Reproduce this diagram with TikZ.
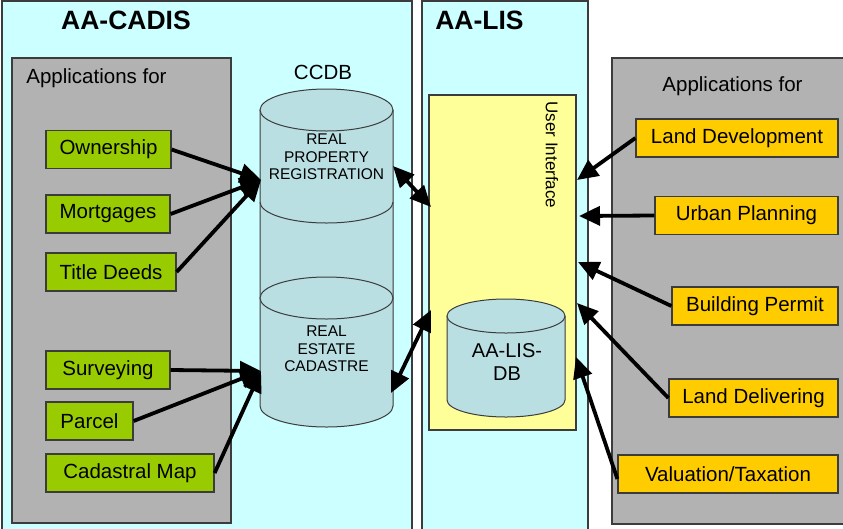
\documentclass[tikz,border=0pt]{standalone}
\usepackage{fontspec}
\setmainfont{Liberation Sans}
\usetikzlibrary{shapes,arrows.meta,positioning}

\definecolor{sysblue}{RGB}{204,255,255}
\definecolor{appgray}{RGB}{178,178,178}
\definecolor{appgreen}{RGB}{153,204,0}
\definecolor{useorange}{RGB}{255,204,0}
\definecolor{uiyellow}{RGB}{255,255,153}
\definecolor{dbfill}{RGB}{185,223,227}
\definecolor{edge}{RGB}{60,60,60}

\begin{document}
\begin{tikzpicture}[
    x=1pt, y=-1pt,
    system/.style={draw=edge, fill=sysblue, line width=1.2pt},
    group/.style={draw=edge, fill=appgray, line width=1.2pt},
    app/.style={rectangle, draw=edge, fill=appgreen, line width=1.2pt, minimum height=38, inner sep=0pt, font=\fontsize{20.5}{23}\selectfont},
    use/.style={rectangle, draw=edge, fill=useorange, line width=1.2pt, minimum height=38, inner sep=0pt, font=\fontsize{20.5}{23}\selectfont},
    db/.style={draw=edge, fill=dbfill, line width=1pt},
    title/.style={font=\fontsize{26.5}{30}\bfseries\selectfont},
    label/.style={font=\fontsize{20.5}{23}\selectfont},
    dbtext/.style={align=center, font=\fontsize{15.5}{17.5}\selectfont},
    arrow/.style={line width=3.8pt, -{Triangle[length=21pt,width=19pt]}},
    link/.style={line width=3.8pt, {Triangle[length=21pt,width=19pt]}-{Triangle[length=21pt,width=19pt]}}
]
\useasboundingbox (0,0) rectangle (843,528);
\clip (0,0) rectangle (843,528);

% Systems and groups
\fill[white] (0,0) rectangle (843,528);
\draw[system] (2,1) rectangle (412,540);
\draw[system] (422,1) rectangle (588,540);
\draw[group] (12,58) rectangle (231,523);
\draw[group] (612,58) rectangle (850,524);

\node[title] (cadis) at (126,20) {AA-CADIS};
\node[title] (lis) at (479.5,20) {AA-LIS};
\node[label] (appsleft) at (96.5,78) {Applications for};
\node[label] (appsright) at (732.5,86) {Applications for};

% CCDB
\fill[dbfill] (260,110) -- (260,406) arc[start angle=180, end angle=0, x radius=66.5, y radius=21] -- (393,110) -- cycle;
\draw[db] (260,110) -- (260,406) arc[start angle=180, end angle=0, x radius=66.5, y radius=21] -- (393,110);
\draw[db] (260,202) arc[start angle=180, end angle=0, x radius=66.5, y radius=21];
\draw[db] (326.5,298) ellipse[x radius=66.5, y radius=21];
\draw[db] (326.5,110) ellipse[x radius=66.5, y radius=21];
\node[label] (ccdb) at (323,72) {CCDB};
\node[dbtext] (reg) at (326.5,157) {REAL\\PROPERTY\\REGISTRATION};
\node[dbtext] (cad) at (326.5,349) {REAL\\ESTATE\\CADASTRE};

% User interface and AA-LIS-DB
\node[rectangle, draw=edge, fill=uiyellow, line width=1.2pt, minimum width=147, minimum height=335, inner sep=0pt] (ui) at (502.5,262.5) {};
\node[rotate=-90, font=\fontsize{17}{20}\selectfont] (uitext) at (552,155) {User Interface};
\fill[dbfill] (447,316) -- (447,400) arc[start angle=180, end angle=0, x radius=59, y radius=17] -- (565,316) -- cycle;
\draw[db] (447,316) -- (447,400) arc[start angle=180, end angle=0, x radius=59, y radius=17] -- (565,316);
\draw[db] (506,316) ellipse[x radius=59, y radius=17];
\node[align=center, font=\fontsize{20}{23}\selectfont] (lisdb) at (507,362) {AA-LIS-\\DB};

% Applications for AA-CADIS
\node[app, minimum width=125] (own) at (108.5,149.5) {Ownership};
\node[app, minimum width=124] (mort) at (108,214) {Mortgages};
\node[app, minimum width=130] (deeds) at (111,272) {Title Deeds};
\node[app, minimum width=124] (surv) at (108,370) {Surveying};
\node[app, minimum width=87] (parcel) at (89.5,421) {Parcel};
\node[app, minimum width=168] (cmap) at (130,473) {Cadastral Map};

% Applications for AA-LIS
\node[use, minimum width=202] (landdev) at (737,138) {Land Development};
\node[use, minimum width=183] (urban) at (746.5,215.5) {Urban Planning};
\node[use, minimum width=166] (build) at (755,306) {Building Permit};
\node[use, minimum width=169] (landdel) at (753.5,398) {Land Delivering};
\node[use, minimum width=220] (val) at (728,474) {Valuation/Taxation};

% Connector ends
\coordinate (regin) at (261,180);
\coordinate (cadin) at (261,371);
\coordinate (regout) at (393,166);
\coordinate (cadout) at (391,393);
\coordinate (uiup) at (431,207);
\coordinate (uidown) at (431,310);
\coordinate (ui1) at (577,180);
\coordinate (ui2) at (579,216);
\coordinate (ui3) at (578,262);
\coordinate (ui4) at (577,303);
\coordinate (ui5) at (576,357);

% Arrows
\draw[arrow] (own.east) -- (regin);
\draw[arrow] (mort.east) -- (regin);
\draw[arrow] (deeds.east) -- (regin);
\draw[arrow] (surv.east) -- (cadin);
\draw[arrow] (parcel.east) -- (cadin);
\draw[arrow] (cmap.east) -- (cadin);
\draw[link] (regout) -- (uiup);
\draw[link] (cadout) -- (uidown);
\draw[arrow] (landdev.west) -- (ui1);
\draw[arrow] (urban.west) -- (ui2);
\draw[arrow] (build.west) -- (ui3);
\draw[arrow] (landdel.west) -- (ui4);
\draw[arrow] ([yshift=-5pt]val.west) -- (ui5);
\end{tikzpicture}
\end{document}
